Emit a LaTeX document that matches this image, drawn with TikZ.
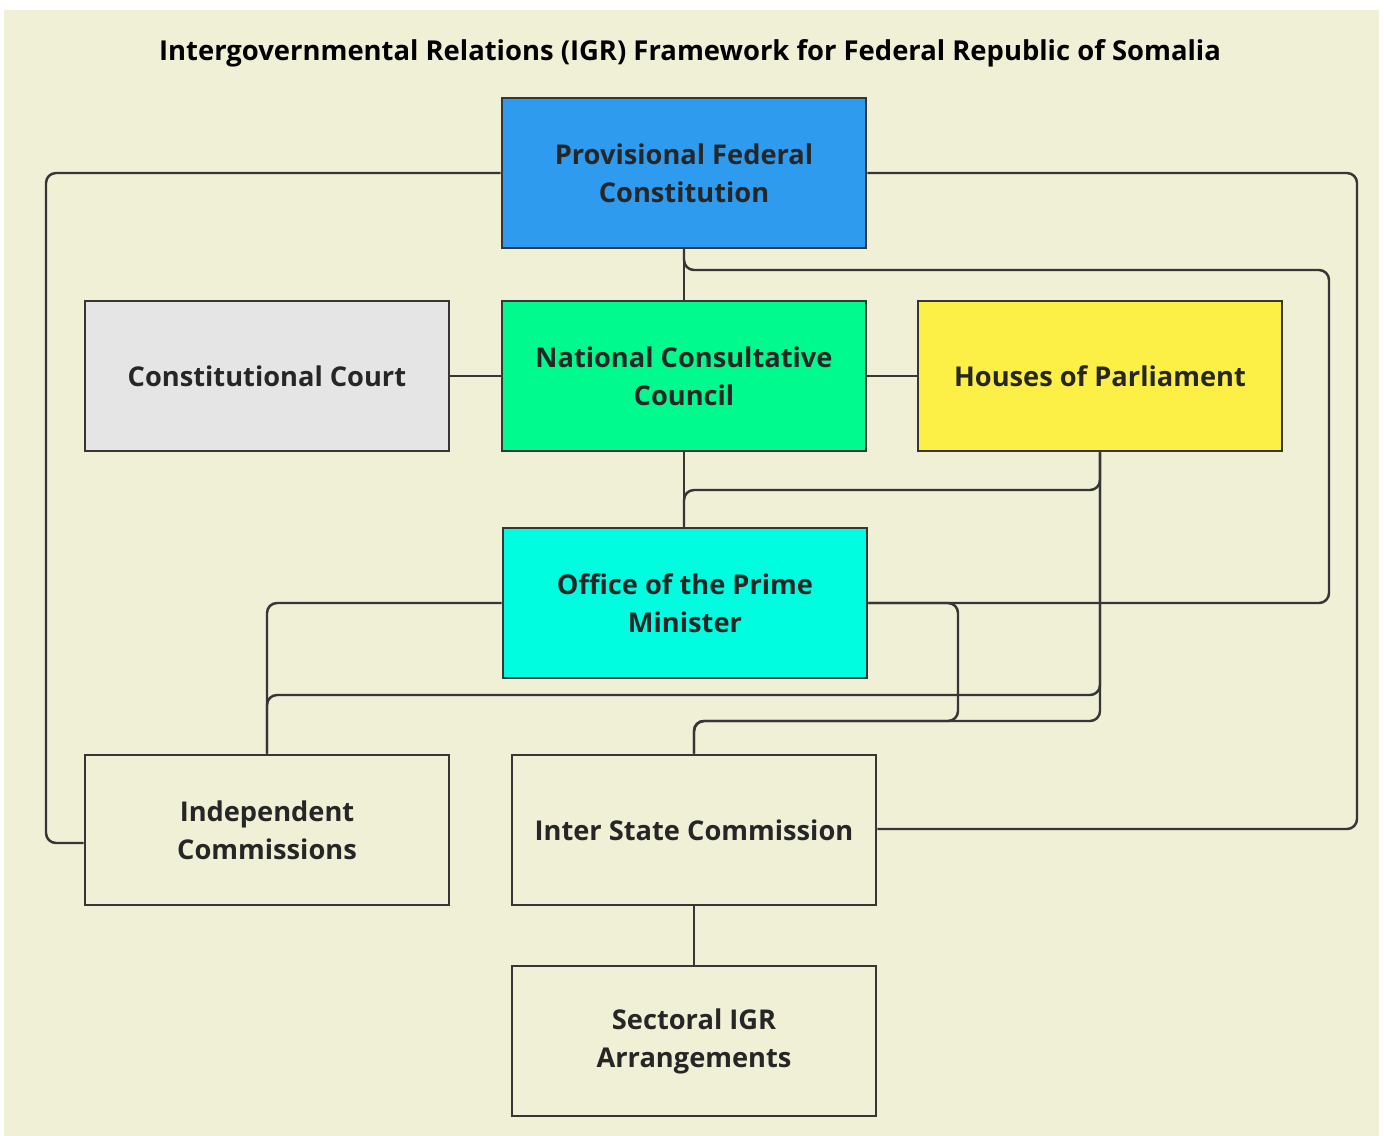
\documentclass[tikz,border=0pt]{standalone}
\usepackage{fontspec}
\setmainfont{Open Sans}
\usetikzlibrary{positioning}
\definecolor{paper}{HTML}{F0F0D7}
\definecolor{ink}{HTML}{363636}
\definecolor{pfcblue}{HTML}{2E9BEF}
\definecolor{courtgray}{HTML}{E5E5E5}
\definecolor{nccgreen}{HTML}{00FA8E}
\definecolor{parlyellow}{HTML}{FCEF45}
\definecolor{opmcyan}{HTML}{00FDE0}

\begin{document}
\begin{tikzpicture}[x=0.02cm,y=-0.02cm,
    box/.style={draw=ink,line width=1.6pt,minimum width=7.28cm,minimum height=3cm,
      align=center,font=\fontsize{15.5}{21.6}\selectfont\bfseries,text=black!85},
    link/.style={draw=ink,line width=1.4pt,rounded corners=0.2cm}]
    \useasboundingbox (0,0) rectangle (1384,1136);
    \fill[paper] (4,10) rectangle (1379,1136);

    \node (title) at (690,53) {\fontsize{15.6}{18}\selectfont\bfseries Intergovernmental Relations (IGR) Framework for Federal Republic of Somalia};

    % boxes
    \node[box,fill=pfcblue] (pfc) at (684,173) {Provisional Federal\\Constitution};
    \node[box,fill=courtgray] (court) at (267,376) {Constitutional Court};
    \node[box,fill=nccgreen] (ncc) at (684,376) {National Consultative\\Council};
    \node[box,fill=parlyellow] (parl) at (1100,376) {Houses of Parliament};
    \node[box,fill=opmcyan] (opm) at (685,603) {Office of the Prime\\Minister};
    \node[box,fill=paper] (indep) at (267,830) {Independent\\Commissions};
    \node[box,fill=paper] (isc) at (694,830) {Inter State Commission};
    \node[box,fill=paper] (sector) at (694,1041) {Sectoral IGR\\Arrangements};

    % links
    \draw[link] (pfc.west) -- (46,173) -- (46,843) -- (indep.west |- 0,843);
    \draw[link] (pfc.east) -- (1357,173) -- (1357,829) -- (isc.east |- 0,829);
    \draw[link] (pfc.south) -- (ncc.north);
    \draw[link] (pfc.south) -- (684,270) -- (1329,270) -- (1329,603) -- (opm.east);
    \draw[link] (court.east) -- (ncc.west);
    \draw[link] (ncc.east) -- (parl.west);
    \draw[link] (ncc.south) -- (opm.north -| ncc.south);
    \draw[link] (parl.south) -- (1100,490) -- (684,490) -- (opm.north -| 684,0);
    \draw[link] (opm.west) -- (267,603) -- (indep.north);
    \draw[link] (parl.south) -- (1100,695) -- (267,695) -- (indep.north);
    \draw[link] (parl.south) -- (1100,721) -- (694,721) -- (isc.north);
    \draw[link] (opm.east) -- (958,603) -- (958,721) -- (694,721) -- (isc.north);
    \draw[link] (isc.south) -- (sector.north);
\end{tikzpicture}
\end{document}
